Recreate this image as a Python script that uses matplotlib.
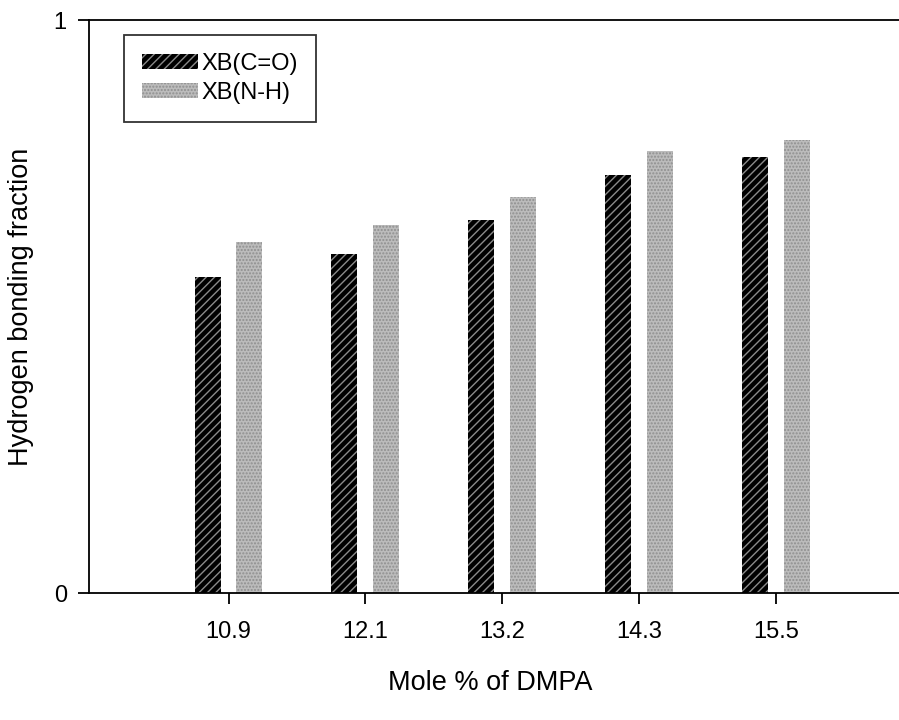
import numpy as np
import matplotlib.pyplot as plt

plt.rcParams['font.family'] = ['Liberation Sans', 'DejaVu Sans']
plt.rcParams['hatch.linewidth'] = 1.0

# data
dmpa = ['10.9', '12.1', '13.2', '14.3', '15.5']
xb_co = [0.551, 0.592, 0.651, 0.729, 0.761]
xb_nh = [0.613, 0.642, 0.691, 0.771, 0.791]

x = np.arange(len(dmpa))
w = 0.19
off = 0.153

fig = plt.figure(figsize=(8.99, 7.2), dpi=100)
ax = fig.add_axes([0.099, 0.176, 0.901, 0.796])

ax.bar(x - off, xb_co, w, color='black', edgecolor='#8a8a8a', hatch='////',
       linewidth=0, label='XB(C=O)')
ax.bar(x + off, xb_nh, w, color='#bcbcbc', edgecolor='#8f8f8f', hatch='.....',
       linewidth=0, label='XB(N-H)')

ax.set_xlim(-1.02, 4.9)
ax.set_ylim(0, 1)
ax.set_yticks([0, 1])
ax.set_yticklabels(['0', '1'])
ax.set_xticks(x)
ax.set_xticklabels(dmpa)
ax.tick_params(axis='both', direction='out', length=8, width=1.3,
               labelsize=17, pad=12)
ax.tick_params(axis='y', pad=8)

ax.spines['right'].set_visible(False)
for s in ['left', 'top', 'bottom']:
    ax.spines[s].set_linewidth(1.3)

ax.set_ylabel('Hydrogen bonding fraction', fontsize=19.5, labelpad=14)
fig.text(0.545, 0.051, 'Mole % of DMPA', fontsize=19.5, ha='center', va='center')

leg = ax.legend(loc='upper left', bbox_to_anchor=(0.043, 0.974), fontsize=17,
                frameon=True, fancybox=False, edgecolor='black',
                borderaxespad=0, handlelength=2.4, handleheight=0.55,
                borderpad=0.75, labelspacing=0.3, handletextpad=0.15)
leg.get_frame().set_linewidth(1.3)

fig.savefig('out.png', dpi=100)
